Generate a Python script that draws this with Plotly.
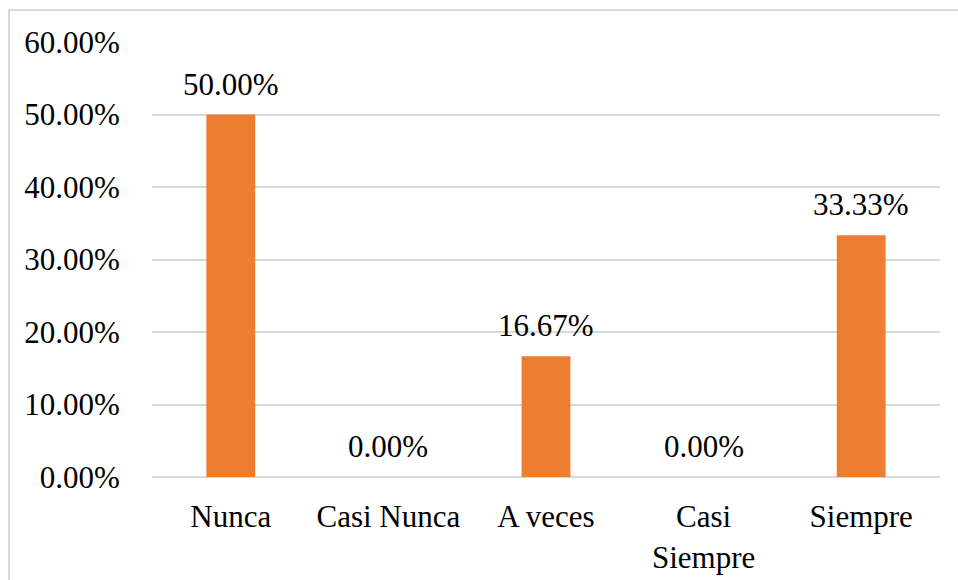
import plotly.graph_objects as go

categories = ["Nunca", "Casi Nunca", "A veces", "Casi<br>Siempre", "Siempre"]
values = [0.50, 0.0, 0.1667, 0.0, 0.3333]
labels = ["50.00%", "0.00%", "16.67%", "0.00%", "33.33%"]
tick_vals = [0, 0.1, 0.2, 0.3, 0.4, 0.5, 0.6]
tick_text = ["0.00%", "10.00%", "20.00%", "30.00%", "40.00%", "50.00%", "60.00%"]

W, H = 958, 580
L, R, T, B = 152, 18, 42, 103
FONT = "Liberation Serif"
FS = 31

fig = go.Figure()
fig.add_trace(go.Bar(
    x=categories, y=values,
    marker=dict(color="#ED7D31", line=dict(width=0)),
    width=0.31,
    hoverinfo="skip",
))

for c, v, t in zip(categories, values, labels):
    fig.add_annotation(x=c, y=v, text=t, showarrow=False,
                       xref="x", yref="y", yanchor="bottom", yshift=11,
                       font=dict(family=FONT, size=FS, color="#000000"))

pw = W - L - R
ph = H - T - B
fig.add_shape(type="rect", xref="paper", yref="paper",
              x0=(9 - L) / pw, x1=(W + 20 - L) / pw,
              y0=-(H + 20 - T - ph) / ph, y1=(H - 10 - B) / ph,
              line=dict(color="#D9D9D9", width=2), fillcolor="rgba(0,0,0,0)",
              layer="below")

fig.update_layout(
    width=W, height=H,
    margin=dict(l=L, r=R, t=T, b=B, pad=0, autoexpand=False),
    paper_bgcolor="white", plot_bgcolor="white",
    showlegend=False,
    bargap=0.69,
    font=dict(family=FONT, size=FS, color="#000000"),
    xaxis=dict(showgrid=False, showline=False, zeroline=False,
               ticks="outside", ticklen=12, tickcolor="rgba(0,0,0,0)",
               tickfont=dict(family=FONT, size=FS, color="#000000"),
               automargin=False, fixedrange=True),
    yaxis=dict(range=[0, 0.6], tickvals=tick_vals, ticktext=tick_text,
               showgrid=True, gridcolor="#D9D9D9", gridwidth=2,
               zeroline=True, zerolinecolor="#D9D9D9", zerolinewidth=2,
               showline=False,
               ticks="outside", ticklen=25, tickcolor="rgba(0,0,0,0)",
               tickfont=dict(family=FONT, size=FS, color="#000000"),
               automargin=False, fixedrange=True),
)

fig.write_html("out.html")
